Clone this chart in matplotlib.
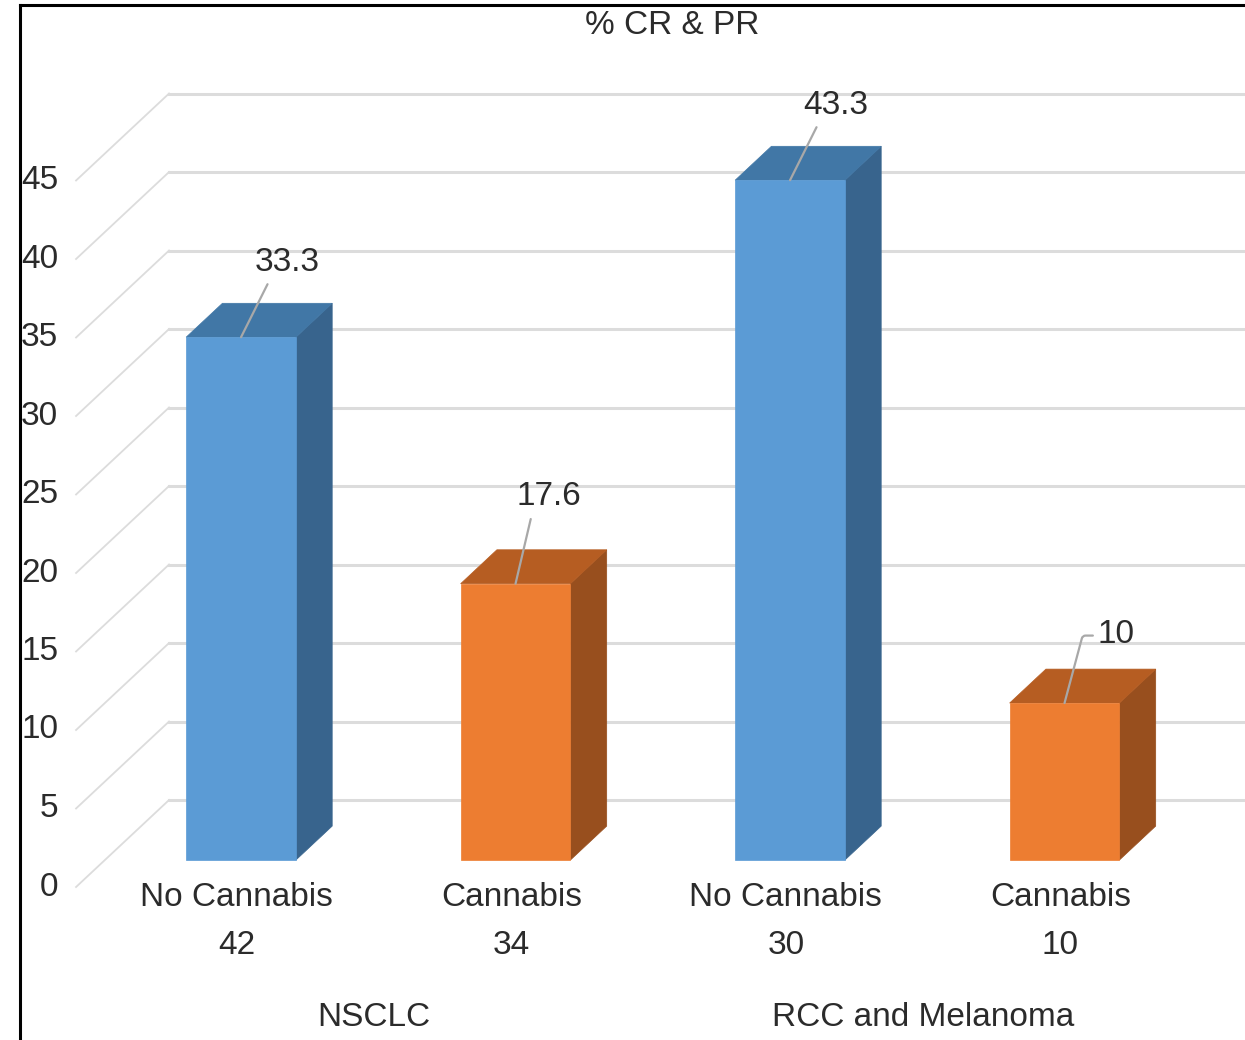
import matplotlib
matplotlib.use("Agg")
import matplotlib.pyplot as plt
from matplotlib.patches import Polygon
from matplotlib.lines import Line2D
from matplotlib import font_manager

# ---------------- data ----------------
categories = ["No Cannabis", "Cannabis", "No Cannabis", "Cannabis"]
counts = ["42", "34", "30", "10"]
values = [33.3, 17.6, 43.3, 10]
value_labels = ["33.3", "17.6", "43.3", "10"]
groups = ["NSCLC", "RCC and Melanoma"]
group_members = [[0, 1], [2, 3]]
yticks = [0, 5, 10, 15, 20, 25, 30, 35, 40, 45]
title = "% CR & PR"

# ---------------- style ----------------
names = {f.name for f in font_manager.fontManager.ttflist}
fam = ["Liberation Sans Narrow", "Liberation Sans", "DejaVu Sans"]
fam = [f for f in fam if f in names] or ["DejaVu Sans"]
plt.rcParams["font.family"] = fam
TXT = "#2b2b2b"
FS = 24
front_cols = ["#5B9BD5", "#ED7D31", "#5B9BD5", "#ED7D31"]
top_cols = ["#4177A6", "#B65D22", "#4177A6", "#B65D22"]
side_cols = ["#38648D", "#984F1E", "#38648D", "#984F1E"]
GRID = "#DCDCDC"
LEAD = "#A8A8A8"

W, H = 1245, 1040
fig = plt.figure(figsize=(W / 100, H / 100), dpi=100)
ax = fig.add_axes([0, 0, 1, 1])
ax.set_axis_off()

# pseudo-3D geometry (x in category units, y in value units)
PX_PER_CAT = 274.5
PX_PER_VAL = 15.7
X0_PX = 212.2        # pixel x of category 0 on the front plane
Y0_PX = 887.0        # pixel y (from top) of value 0 on the front plane
ax.set_xlim(-X0_PX / PX_PER_CAT, (W - X0_PX) / PX_PER_CAT)
ax.set_ylim((Y0_PX - H) / PX_PER_VAL, Y0_PX / PX_PER_VAL)

DX = 93 / PX_PER_CAT   # depth vector (whole floor)
DY = 87 / PX_PER_VAL
D0, D1 = 0.31, 0.70    # bar front / back depth
HALF = 0.20            # half bar width
X_AXIS = -0.496        # front-left x of the grid


def proj(x, v, d):
    return (x + d * DX, v + d * DY)


def ypix(py):
    """value-axis coordinate of a pixel row measured from the top"""
    return (Y0_PX - py) / PX_PER_VAL


# gridlines: diagonal on the side wall then horizontal on the back wall
for t in yticks:
    p0 = proj(X_AXIS, t, 0)
    p1 = proj(X_AXIS, t, 1)
    ax.add_line(Line2D([p0[0], p1[0]], [p0[1], p1[1]], color=GRID, lw=1.3, zorder=1))
    ax.add_line(Line2D([p1[0], 5], [p1[1], p1[1]], color=GRID, lw=2.2, zorder=1))
    ax.text(p0[0] - 0.065, t, str(t), ha="right", va="center",
            fontsize=FS, color=TXT)

# bars
for i, v in enumerate(values):
    xl, xr = i - HALF, i + HALF
    front = [proj(xl, 0, D0), proj(xr, 0, D0), proj(xr, v, D0), proj(xl, v, D0)]
    side = [proj(xr, 0, D0), proj(xr, 0, D1), proj(xr, v, D1), proj(xr, v, D0)]
    top = [proj(xl, v, D0), proj(xr, v, D0), proj(xr, v, D1), proj(xl, v, D1)]
    ax.add_patch(Polygon(side, closed=True, fc=side_cols[i], ec=side_cols[i], lw=0.5, zorder=3))
    ax.add_patch(Polygon(top, closed=True, fc=top_cols[i], ec=top_cols[i], lw=0.5, zorder=3))
    ax.add_patch(Polygon(front, closed=True, fc=front_cols[i], ec=front_cols[i], lw=0.5, zorder=4))

# value labels with leader lines
label_offsets = [(46, 75), (33, 87), (46, 75), (51, 69)]
for i, v in enumerate(values):
    xy = proj(i, v, D0)
    dx, dy = label_offsets[i]
    if i == 3:
        ap = dict(arrowstyle="-", color=LEAD, lw=1.6, shrinkA=1, shrinkB=0,
                  relpos=(0.0, 0.45),
                  connectionstyle="angle,angleA=0,angleB=75,rad=3")
    else:
        ap = dict(arrowstyle="-", color=LEAD, lw=1.6, shrinkA=3, shrinkB=0,
                  relpos=(0.25, 0.0))
    ax.annotate(value_labels[i], xy=xy, xytext=(dx, dy), textcoords="offset pixels",
                ha="center", va="center", fontsize=FS, color=TXT,
                arrowprops=ap, zorder=6)

# category labels (two lines each)
for i, (c, n) in enumerate(zip(categories, counts)):
    x, _ = proj(i, 0, D0)
    ax.text(x - 0.015, ypix(898), c, ha="center", va="center", fontsize=FS, color=TXT)
    ax.text(x - 0.015, ypix(946), n, ha="center", va="center", fontsize=FS, color=TXT)

# group labels
for g, mem in zip(groups, group_members):
    x = sum(proj(m, 0, D0)[0] for m in mem) / len(mem)
    ax.text(x - 0.015, ypix(1018), g, ha="center", va="center", fontsize=FS, color=TXT)

# title
fig.text(672 / W, 1 - 25 / H, title, ha="center", va="center", fontsize=FS, color=TXT)

# frame (left and top edges)
fig.add_artist(Line2D([20 / W, 20 / W], [-0.01, 1 - 5 / H], transform=fig.transFigure,
                      color="black", lw=2.2))
fig.add_artist(Line2D([20 / W, 1.01], [1 - 5 / H, 1 - 5 / H], transform=fig.transFigure,
                      color="black", lw=2.2))

fig.savefig("out.png", dpi=100)
